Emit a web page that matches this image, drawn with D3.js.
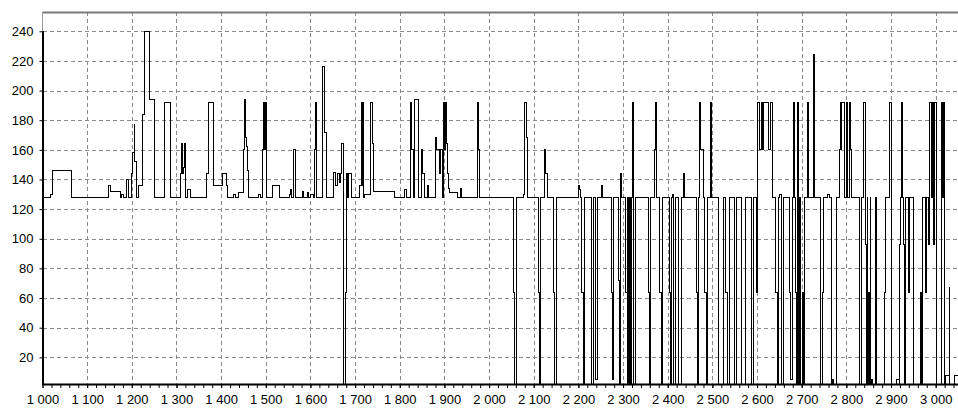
<!DOCTYPE html>
<html>
<head>
<meta charset="utf-8">
<script src="https://cdn.jsdelivr.net/npm/d3@7"></script>
<style>
  body { margin: 0; background: #fff; }
  svg { display: block; }
  .axis text { font-family: "Liberation Sans", Arial, sans-serif; font-size: 13px; fill: #000; }
  .grid line { stroke: #8a8a8a; stroke-dasharray: 4,3; shape-rendering: crispEdges; }
</style>
</head>
<body>
<div id="chart"></div>
<script>
/* ===== Data ===== */
// positions where the value changes, and the value held from there on
const changeAt = [
  1000, 1002, 1018, 1022, 1065, 1147, 1152, 1175, 1178, 1181, 1187, 1192, 1199, 1202, 1205, 1207, 1210,
  1216, 1223, 1229, 1240, 1251, 1274, 1287, 1308, 1311, 1313, 1316, 1318, 1320, 1325, 1332,
  1367, 1372, 1383, 1402, 1412, 1415, 1428, 1432, 1440, 1449, 1451, 1453, 1455, 1457, 1460, 1462,
  1484, 1489, 1493, 1495, 1498, 1500, 1502, 1514, 1531, 1552, 1555, 1558, 1563, 1566,
  1582, 1585, 1593, 1596, 1600, 1606, 1609, 1611, 1614, 1628, 1631, 1635,
  1652, 1657, 1660, 1664, 1667, 1670, 1673, 1674, 1679, 1680, 1684, 1686, 1693,
  1709, 1714, 1716, 1717, 1719, 1721, 1735, 1739, 1741, 1788, 1811, 1814,
  1825, 1827, 1830, 1833, 1841, 1849, 1852, 1856, 1861, 1864,
  1879, 1882, 1888, 1892, 1895, 1898, 1901, 1902, 1904, 1907, 1909, 1912, 1929, 1935, 1939,
  1974, 1975, 1977, 1978,
  2055, 2058, 2061, 2076, 2080, 2083, 2087, 2110, 2113, 2116, 2123, 2126, 2130, 2144, 2147, 2150,
  2200, 2202, 2205, 2208, 2211, 2214, 2230, 2233, 2238, 2242, 2251, 2253, 2255, 2273, 2276, 2279,
  2289, 2292, 2294, 2296, 2306, 2309, 2311, 2312, 2315, 2316, 2319, 2321, 2323, 2324, 2328,
  2356, 2359, 2362, 2371, 2372, 2374, 2382, 2385, 2388, 2403, 2406, 2409, 2411, 2414, 2418,
  2424, 2431, 2435, 2437, 2464, 2467, 2470, 2472, 2474, 2480, 2483, 2486, 2489, 2495, 2496, 2498,
  2513, 2524, 2530, 2533, 2539, 2550, 2554, 2565, 2575, 2588, 2591, 2599,
  2602, 2605, 2610, 2613, 2615, 2625, 2631, 2634, 2642, 2645, 2648, 2650, 2654, 2655, 2659,
  2673, 2676, 2680, 2681, 2682, 2685, 2686, 2689, 2691, 2693, 2696, 2698, 2701, 2704, 2706,
  2713, 2715, 2726, 2729, 2741, 2747, 2749, 2758, 2762, 2767, 2769, 2772, 2777,
  2785, 2787, 2789, 2790, 2795, 2800, 2802, 2808, 2810, 2812,
  2829, 2835, 2839, 2843, 2845, 2847, 2848, 2850, 2851, 2853, 2854, 2856, 2858, 2866, 2868,
  2886, 2888, 2897, 2901, 2913, 2918, 2920, 2922, 2924, 2926, 2928, 2930, 2932, 2939, 2942, 2950,
  2965, 2968, 2971, 2977, 2980, 2984, 2987, 2991, 2993, 2995, 2998, 3002,
  3013, 3016, 3017, 3019, 3022, 3030, 3032, 3043, 3050
];
const levelFrom = [
  240, 128, 130, 146, 128, 136, 132, 128, 130, 128, 140, 128, 144, 158, 177, 152, 128,
  136, 184, 240, 194, 128, 192, 128, 144, 164, 144, 148, 164, 128, 133, 128,
  144, 192, 136, 144, 136, 128, 130, 128, 131, 136, 160, 194, 168, 162, 146, 128,
  130, 128, 160, 192, 160, 192, 128, 136, 128, 130, 133, 128, 160, 128,
  132, 128, 131, 128, 130, 128, 160, 192, 128, 216, 172, 128,
  145, 136, 144, 138, 144, 164, 144, 0, 64, 144, 128, 144, 128,
  136, 192, 136, 192, 128, 130, 192, 164, 132, 128, 133, 128,
  192, 160, 128, 194, 128, 160, 144, 128, 136, 128,
  168, 160, 144, 160, 128, 192, 160, 192, 164, 144, 134, 131, 128, 134, 128,
  160, 192, 160, 128,
  64, 0, 128, 130, 192, 168, 128, 64, 0, 128, 160, 144, 128, 64, 0, 128,
  136, 133, 128, 64, 0, 128, 0, 128, 5, 128, 136, 132, 128, 64, 5, 128,
  72, 0, 144, 128, 64, 0, 128, 0, 128, 0, 128, 192, 128, 0, 128,
  64, 0, 128, 160, 192, 128, 64, 0, 128, 64, 0, 128, 130, 0, 128,
  0, 128, 144, 128, 64, 0, 128, 192, 160, 128, 64, 0, 128, 160, 192, 128,
  0, 128, 64, 0, 128, 0, 128, 0, 128, 0, 128, 64,
  192, 160, 192, 160, 192, 160, 192, 128, 64, 0, 128, 130, 128, 0, 128,
  64, 5, 128, 160, 192, 128, 64, 0, 192, 0, 128, 0, 64, 0, 128,
  192, 128, 224, 128, 0, 64, 128, 130, 128, 0, 5, 0, 128,
  160, 192, 160, 192, 128, 192, 128, 192, 160, 128,
  0, 128, 192, 96, 0, 128, 0, 64, 0, 128, 0, 5, 0, 128, 0,
  64, 128, 192, 0, 5, 0, 96, 128, 192, 128, 96, 0, 128, 64, 128, 0,
  64, 0, 128, 64, 128, 96, 192, 128, 192, 96, 192, 0,
  192, 128, 192, 0, 8, 67, 0, 8, 8
];

const xTickValues = [1000, 1100, 1200, 1300, 1400, 1500, 1600, 1700, 1800, 1900, 2000,
                     2100, 2200, 2300, 2400, 2500, 2600, 2700, 2800, 2900, 3000];
const yTickValues = [20, 40, 60, 80, 100, 120, 140, 160, 180, 200, 220, 240];
const xDomain = [1000, 3050];
const yDomain = [2, 253];

class StepChart {

    /* ===== Constants ===== */
    width = 958;
    height = 408;
    plot = {top: 12, bottom: 384, left: 42.5, right: 958};

    constructor(elementId) {
        const points = changeAt.map((d, i) => ({x: d, y: levelFrom[i]}));

        const svg = d3.select('div#' + elementId)
                      .append('svg')
                      .attr('width', this.width)
                      .attr('height', this.height);

        const x = d3.scaleLinear().domain(xDomain).range([this.plot.left, this.plot.right]);
        const y = d3.scaleLinear().domain(yDomain).range([this.plot.bottom, this.plot.top]);

        this.drawGrid(svg, x, y);
        this.drawLine(svg, x, y, points);
        this.drawAxes(svg, x, y);
    }

    drawGrid(svg, x, y) {
        const g = svg.append('g').classed('grid', true);
        g.selectAll('line.v')
         .data(xTickValues.filter(d => d > xDomain[0]))
         .join('line')
         .attr('x1', d => Math.round(x(d)) + 0.5)
         .attr('x2', d => Math.round(x(d)) + 0.5)
         .attr('y1', this.plot.top)
         .attr('y2', this.plot.bottom);
        g.selectAll('line.h')
         .data(yTickValues)
         .join('line')
         .attr('x1', this.plot.left)
         .attr('x2', this.plot.right)
         .attr('y1', d => Math.round(y(d)) + 0.5)
         .attr('y2', d => Math.round(y(d)) + 0.5);
    }

    drawLine(svg, x, y, points) {
        svg.append('clipPath').attr('id', 'plot-clip')
           .append('rect')
           .attr('x', this.plot.left).attr('y', this.plot.top)
           .attr('width', this.plot.right - this.plot.left)
           .attr('height', this.plot.bottom - this.plot.top);

        const line = d3.line()
                       .x(d => x(d.x))
                       .y(d => y(d.y))
                       .curve(d3.curveStepAfter);

        svg.append('path')
           .datum(points)
           .attr('clip-path', 'url(#plot-clip)')
           .attr('d', line)
           .attr('fill', 'none')
           .attr('stroke', '#000')
           .attr('stroke-width', 1)
           .attr('shape-rendering', 'crispEdges');
    }

    drawAxes(svg, x, y) {
        const fmt = d => d3.format(',')(d).replace(/,/g, ' ');

        // frame line on top
        svg.append('line')
           .attr('x1', this.plot.left).attr('x2', this.plot.right)
           .attr('y1', this.plot.top + 0.5).attr('y2', this.plot.top + 0.5)
           .attr('stroke', '#7a7a7a').attr('stroke-width', 2);
        svg.append('line')
           .attr('x1', this.plot.left).attr('x2', this.plot.left)
           .attr('y1', this.plot.top).attr('y2', y(240))
           .attr('stroke', '#9a9a9a').attr('stroke-width', 1);

        // minor ticks every 20 along the bottom
        svg.append('g')
           .attr('transform', `translate(0,${this.plot.bottom})`)
           .call(d3.axisBottom(x).tickValues(d3.range(1000, 3041, 20)).tickSize(4).tickFormat(''))
           .call(g => g.select('.domain').remove())
           .selectAll('line').attr('stroke', '#000');

        const xAxis = svg.append('g')
                         .classed('axis', true)
                         .attr('transform', `translate(0,${this.plot.bottom})`)
                         .call(d3.axisBottom(x).tickValues(xTickValues).tickSize(4).tickPadding(7).tickFormat(fmt).tickSizeOuter(0));
        xAxis.select('.domain').attr('stroke-width', 2);

        const yAxis = svg.append('g')
                         .classed('axis', true)
                         .attr('transform', `translate(${this.plot.left},0)`)
                         .call(d3.axisLeft(y).tickValues(yTickValues).tickSize(3).tickPadding(6).tickSizeOuter(0));
        yAxis.select('.domain')
             .attr('d', `M0.5,${this.plot.bottom + 1}V${y(240)}`)
             .attr('stroke-width', 2);
    }
}

new StepChart('chart');
</script>
</body>
</html>
